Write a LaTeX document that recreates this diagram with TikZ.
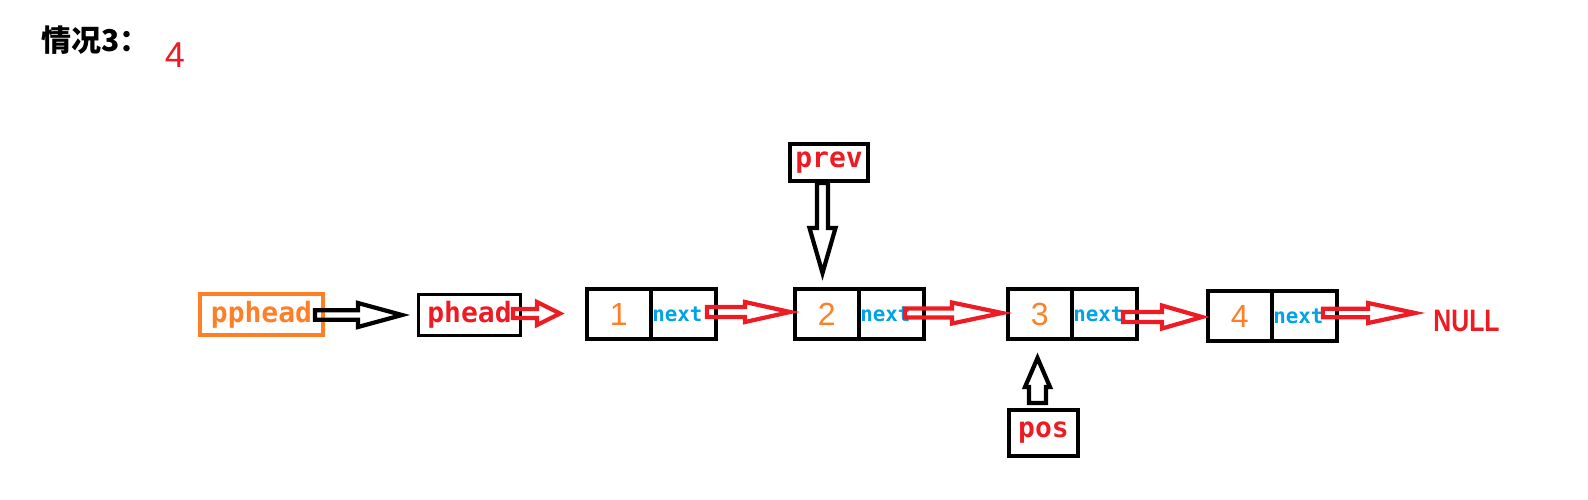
\documentclass[tikz,border=0pt]{standalone}
\usepackage{fontspec}
\setmainfont{Liberation Sans}
\newfontfamily\monofont{DejaVu Sans Mono}
\newfontfamily\cjk{Noto Sans CJK SC}
\usetikzlibrary{calc,positioning}
\definecolor{pred}{RGB}{237,28,36}
\definecolor{porange}{RGB}{255,127,39}
\definecolor{pblue}{RGB}{0,162,232}
\tikzset{
  aw/.store in=\aw, ah/.store in=\ah, al/.store in=\al,
  aw=2.4pt, ah=5pt, al=20pt,
  hollow/.style={line width=2.1pt, line join=miter, to path={
    ($(\tikztostart)!\aw!90:(\tikztotarget)$)
    -- ($(\tikztotarget)!\al!(\tikztostart)!\aw!-90:(\tikztostart)$)
    -- ($(\tikztotarget)!\al!(\tikztostart)!\ah!-90:(\tikztostart)$)
    -- (\tikztotarget)
    -- ($(\tikztotarget)!\al!(\tikztostart)!\ah!90:(\tikztostart)$)
    -- ($(\tikztotarget)!\al!(\tikztostart)!\aw!90:(\tikztostart)$)
    -- ($(\tikztostart)!\aw!-90:(\tikztotarget)$)
    -- cycle}}
}
\begin{document}
\begin{tikzpicture}[x=0.5pt, y=-0.5pt,
  box/.style={draw, line width=2pt, inner sep=0pt, text=pred,
    font=\monofont\bfseries\fontsize{14}{14}\selectfont},
  cell/.style={draw, line width=2pt, inner sep=0pt, outer sep=0pt, minimum height=25pt},
  numtext/.style={text=porange, font=\fontsize{16}{16}\selectfont},
  nexttext/.style={text=pblue, align=left, text width=31pt,
    font=\monofont\bfseries\fontsize{10.4}{10.4}\selectfont}]
  \useasboundingbox (0,0) rectangle (1588,499);

  \node[anchor=west, font=\cjk\bfseries\fontsize{15}{15}\selectfont] (title) at (34,40) {情况3：};
  \node[text=pred, font=\fontsize{18}{18}\selectfont] (count) at (175,55) {4};

  \node[box, draw=porange, text=porange, minimum width=61.5pt, minimum height=20.5pt] (pphead) at (261.5,314.5) {pphead};
  \node[box, line width=1.5pt, minimum width=51pt, minimum height=20.5pt] (phead) at (469.5,315) {phead};
  \node[box, minimum width=39pt, minimum height=18.5pt] (prev) at (829,162.5) {prev};
  \node[box, minimum width=34.5pt, minimum height=23pt] (pos) at (1043.5,433) {pos};

  \foreach \i/\x/\y in {1/618.75/314, 2/826.75/314, 3/1039.75/314, 4/1239.75/316} {
    \node[cell, numtext, minimum width=31.75pt] (v\i) at (\x,\y) {\i};
    \node[cell, nexttext, minimum width=32.75pt, right=0pt of v\i] (x\i) {next};
  }
  \node[text=pred, font=\bfseries\fontsize{15.5}{15.5}\selectfont, xscale=0.8, inner sep=0pt] (null) at (1466.5,321) {NULL};

  \coordinate (s0) at ($(pphead.east)+(-10,0.5)$);
  \coordinate (t0) at ($(phead.west)+(-15,0)$);
  \coordinate (s1) at ($(phead.east)+(-9,-1.5)$);
  \coordinate (t1) at ($(v1.west)+(-27,-0.5)$);
  \coordinate (s2) at ($(x1.east)+(-9,-2)$);
  \coordinate (t2) at ($(v2.west)+(-5,-2)$);
  \coordinate (s3) at ($(x2.east)+(-19,-1)$);
  \coordinate (t3) at ($(v3.west)+(-6,-1)$);
  \coordinate (s4) at ($(x3.east)+(-14,3)$);
  \coordinate (t4) at ($(v4.west)+(-6,1)$);
  \coordinate (s5) at ($(x4.east)+(-14,-3)$);
  \coordinate (t5) at ($(null.west)+(-18,-8)$);
  \coordinate (s6) at ($(prev.south)+(-6.5,0)$);
  \coordinate (t6) at ($(v2.north)+(-4.25,-16)$);
  \coordinate (s7) at ($(pos.north)+(-6,-5)$);
  \coordinate (t7) at ($(v3.south)+(-2.25,19)$);

  \draw[hollow, aw=2.35pt, ah=6pt, al=22pt] (s0) to (t0);
  \draw[hollow, pred, aw=2.25pt, ah=5.75pt, al=11.5pt] (s1) to (t1);
  \draw[hollow, pred, aw=2.5pt, ah=5pt, al=22.5pt] (s2) to (t2);
  \draw[hollow, pred, aw=2.25pt, ah=5.25pt, al=25pt] (s3) to (t3);
  \draw[hollow, pred, aw=2.5pt, ah=5.75pt, al=20pt] (s4) to (t4);
  \draw[hollow, pred, aw=2.15pt, ah=5pt, al=23.5pt] (s5) to (t5);
  \draw[hollow, aw=2.75pt, ah=6.5pt, al=22.5pt] (s6) to (t6);
  \draw[hollow, aw=4.25pt, ah=6.25pt, al=14.5pt] (s7) to (t7);
\end{tikzpicture}
\end{document}
